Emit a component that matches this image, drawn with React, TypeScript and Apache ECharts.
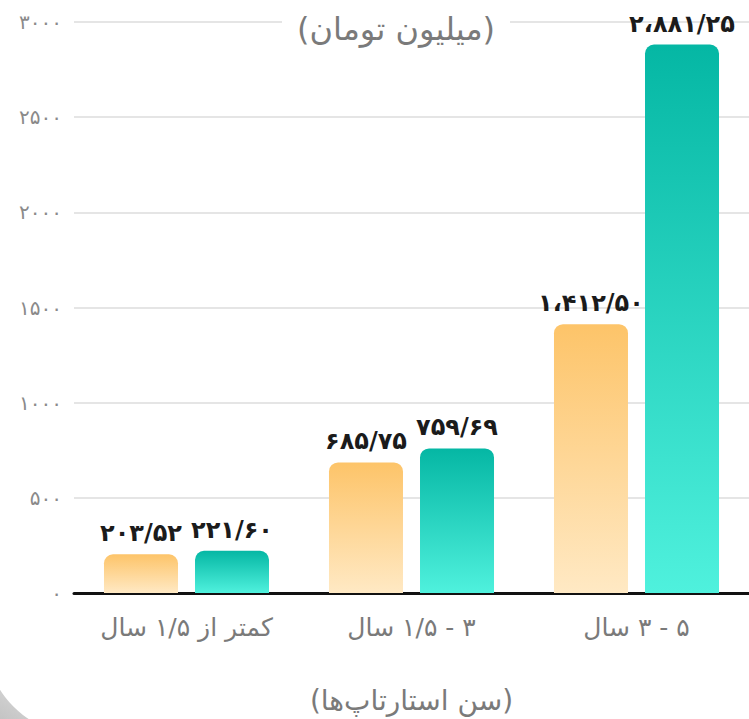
import React, { useEffect, useRef } from "react";
import * as echarts from "echarts";

const categories = ["کمتر از ۱/۵ سال", "۳ - ۱/۵ سال", "۵ - ۳ سال"];
const seriesA = [203.52, 685.75, 1412.5];
const seriesB = [221.6, 759.69, 2881.25];
const yMax = 3000;
const yInterval = 500;
const titleText = "(میلیون تومان)";
const xAxisName = "(سن استارتاپ‌ها)";

const FONT = "DejaVu Sans";
const faDigits = "۰۱۲۳۴۵۶۷۸۹";
const toFa = (s: string) => s.replace(/[0-9]/g, (d) => faDigits[+d]);
const fmtValue = (v: number) => {
  const [i, d] = v.toFixed(2).split(".");
  const withSep = i.replace(/\B(?=(\d{3})+(?!\d))/g, "\u060C");
  return toFa(withSep + "/" + d);
};
const rtl = (s: string) => "\u202B" + s + "\u202C";

export default function App() {
  const ref = useRef<HTMLDivElement>(null);
  useEffect(() => {
    if (!ref.current) return;
    const chart = echarts.init(ref.current, null, { renderer: "svg" });
    const grad = (top: string, bottom: string) =>
      new echarts.graphic.LinearGradient(0, 0, 0, 1, [
        { offset: 0, color: top },
        { offset: 1, color: bottom },
      ]);
    const labelStyle = {
      show: true,
      position: "top" as const,
      distance: 9,
      fontFamily: FONT,
      fontSize: 24,
      fontWeight: "bold" as const,
      color: "#1b1b1b",
      formatter: (p: any) => fmtValue(p.value),
    };
    chart.setOption({
      animation: false,
      backgroundColor: "#ffffff",
      textStyle: { fontFamily: FONT },
      grid: { left: 74, right: -9, top: 22, bottom: 115, containLabel: false },
      xAxis: {
        type: "category",
        data: categories,
        axisLine: { show: true, lineStyle: { color: "#111", width: 3 } },
        axisTick: { show: false },
        axisLabel: {
          margin: 22,
          fontSize: 25,
          color: "#7a7a7a",
          fontFamily: FONT,
          formatter: (v: string) => rtl(v),
        },
        name: rtl(xAxisName),
        nameLocation: "middle",
        nameGap: 93,
        nameTextStyle: { fontSize: 28, color: "#7a7a7a", fontFamily: FONT },
      },
      yAxis: {
        type: "value",
        min: 0,
        max: yMax,
        interval: yInterval,
        axisLine: { show: false },
        axisTick: { show: false },
        axisLabel: {
          margin: 12,
          fontSize: 20,
          color: "#8a8a8a",
          fontFamily: FONT,
          padding: [0, 0, 10, 0],
          formatter: (v: number) => toFa(String(v)),
        },
        splitLine: { lineStyle: { color: "#dcdcdc", width: 1.5 } },
      },
      series: [
        {
          type: "bar",
          data: seriesA,
          barWidth: 74,
          barGap: "23%",
          itemStyle: { color: grad("#FDC469", "#FFE9C4"), borderRadius: [9, 9, 0, 0] },
          label: labelStyle,
        },
        {
          type: "bar",
          data: seriesB,
          barWidth: 74,
          barGap: "23%",
          itemStyle: { color: grad("#05B7A4", "#4FF1DD"), borderRadius: [9, 9, 0, 0] },
          label: labelStyle,
        },
      ],
      graphic: [
        {
          type: "rect",
          z: -10,
          shape: { x: 0, y: 660, width: 90, height: 59 },
          style: {
            fill: new echarts.graphic.LinearGradient(1, 0, 0, 1, [
              { offset: 0, color: "#f4f4f4" },
              { offset: 1, color: "#c4c4c4" },
            ]),
          },
        },
        {
          type: "circle",
          z: -9,
          shape: { cx: 82, cy: 638, r: 97 },
          style: { fill: "#ffffff" },
        },
        {
          type: "text",
          z: 10,
          x: 396,
          y: 29,
          style: {
            text: titleText,
            fontFamily: FONT,
            fontSize: 32,
            fill: "#7a7a7a",
            align: "center",
            verticalAlign: "middle",
            backgroundColor: "#ffffff",
            padding: [0, 15],
          },
        },
      ],
    });
    return () => chart.dispose();
  }, []);
  return (
    <div
      ref={ref}
      style={{ position: "fixed", left: 0, top: 0, width: 749, height: 719 }}
    />
  );
}
